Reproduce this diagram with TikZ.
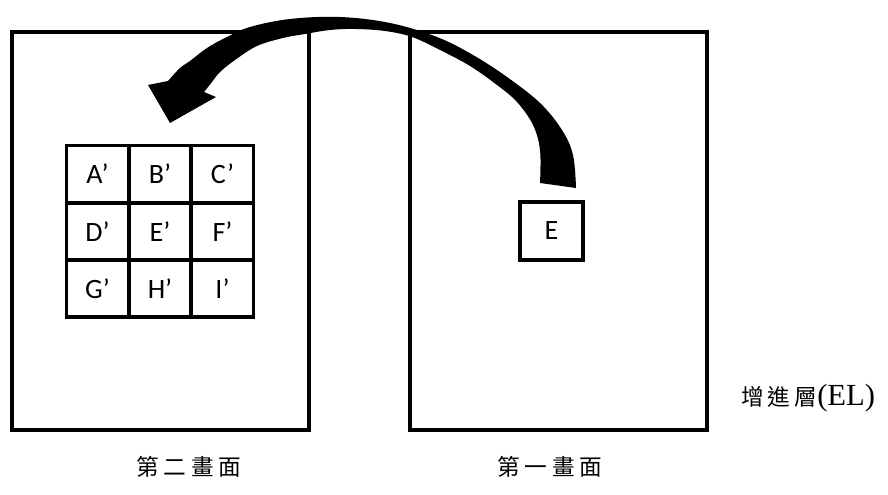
\documentclass[tikz,border=0pt]{standalone}
\usepackage{fontspec}
\setmainfont{Carlito}
\newfontfamily\cjk{Noto Sans CJK TC}
\newfontfamily\tnr{Liberation Serif}
\newcommand{\gs}{\hspace{3.5pt}}
\begin{document}
\begin{tikzpicture}[x=0.75pt,y=-0.75pt,
  frame/.style={draw,line width=3pt,minimum width=222.75pt,minimum height=298.5pt,inner sep=0pt},
  cell/.style={draw,line width=2.7pt,minimum width=46.5pt,minimum height=43pt,inner sep=0pt,font=\fontsize{21}{22}\selectfont},
  ebox/.style={draw,line width=3.2pt,minimum width=47pt,minimum height=43.5pt,inner sep=0pt,font=\fontsize{21}{22}\selectfont},
  captext/.style={font=\cjk\fontsize{17}{18}\selectfont,inner sep=0pt}]
\useasboundingbox (0,0) rectangle (888,495);
\node[frame] (second) at (160.5,231) {};
\node[frame] (first) at (558.5,231) {};
\node[cell] (A) at (97.5,174) {A’};
\node[cell] (B) at (160,174) {B’};
\node[cell] (C) at (222.5,174) {C’};
\node[cell] (D) at (97.5,231.5) {D’};
\node[cell] (E2) at (160,231.5) {E’};
\node[cell] (F) at (222.5,231.5) {F’};
\node[cell] (G) at (97.5,288.5) {G’};
\node[cell] (H) at (160,288.5) {H’};
\node[cell] (I) at (222.5,288.5) {I’};
\node[ebox] (E) at (551.5,231) {E};
\node[captext] (l2) at (189,467) {第\gs 二\gs 畫\gs 面};
\node[captext] (l1) at (550,467) {第\gs 一\gs 畫\gs 面};
\node[captext,anchor=west] (el) at (741,398) {增\hspace{3pt}進\hspace{3pt}層{\tnr\fontsize{23}{24}\selectfont (EL)}};
% curved arrow
\fill (540,183) -- plot[smooth,tension=0.6] coordinates {(540,183) (540,150) (533,125) (517,102) (497,85) (470,66) (440,50) (412,37) (385,31) (355,29) (330,30) (305,34) (283,38) (257,46) (235,60) (220,72) (212,82) (204,92)}
  -- (216,97) -- (170,123) -- (148,85) --
  plot[smooth,tension=0.6] coordinates {(168,81) (180,68) (190,61) (207,48) (227,37) (250,27) (290,19) (340,17) (390,23) (437,37) (473,55) (507,77) (540,103) (562,130) (573,155) (576,188)}
  -- cycle;
\end{tikzpicture}
\end{document}
